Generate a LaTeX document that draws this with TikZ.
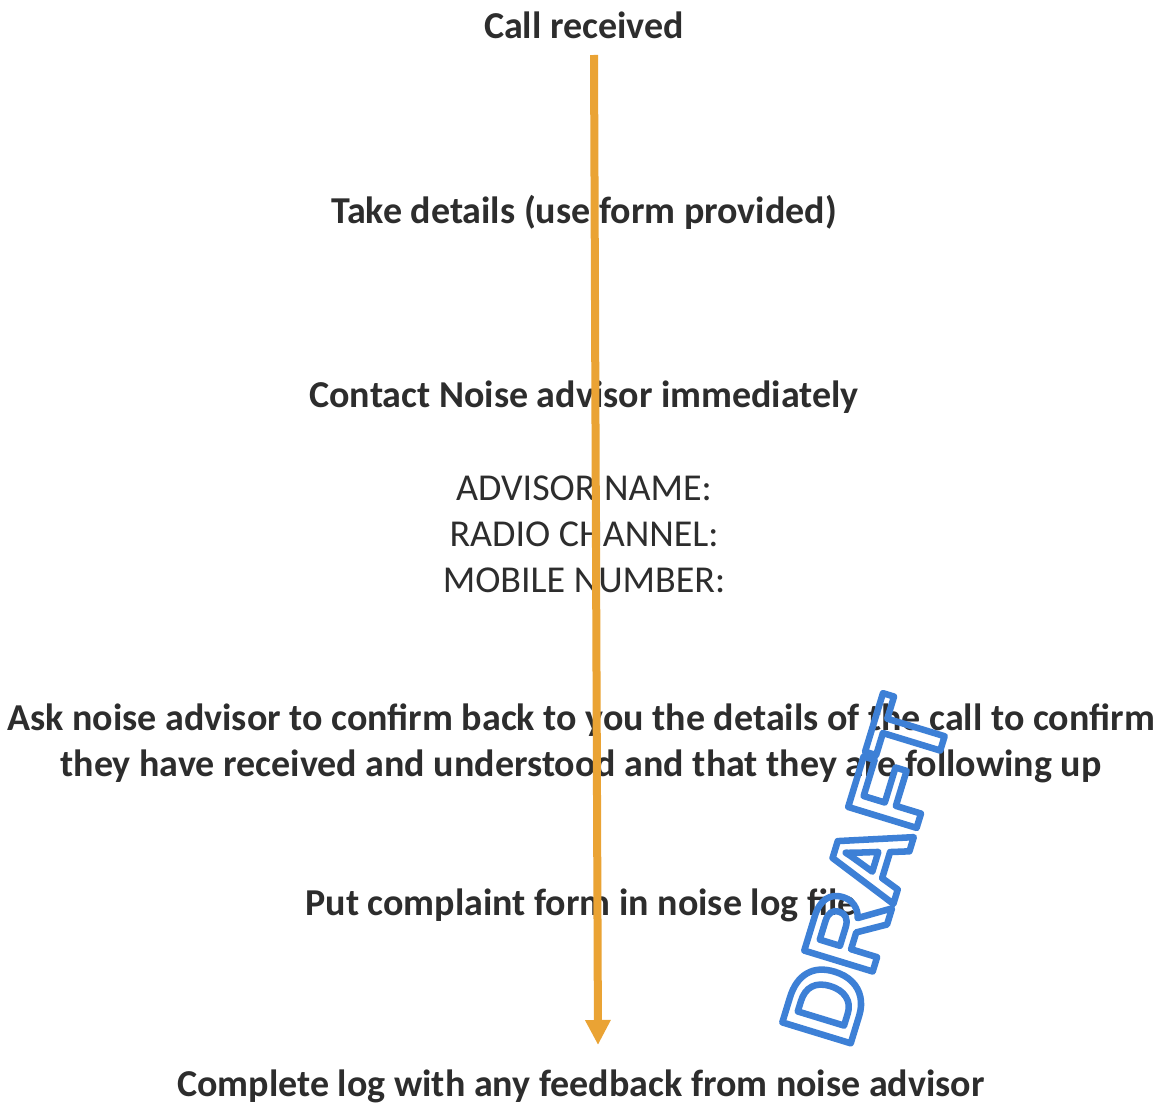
\documentclass[tikz,border=0pt]{standalone}
\usepackage{fontspec}
\setmainfont{Carlito}
\newfontfamily\stampfont{Liberation Sans}
\usetikzlibrary{arrows.meta}
\usepackage{xcolor}

\definecolor{inkgray}{RGB}{45,45,45}
\definecolor{arroworange}{RGB}{234,163,52}

% hollow letters: blue stroke only
\newcommand\outlined[1]{{\special{pdf:literal direct 0.24 0.50 0.84 RG 6.5 w 1 j 1 Tr}#1\special{pdf:literal direct 0 Tr}}}

\tikzset{
  stage/.style={anchor=base, text=inkgray, font=\fontsize{38}{46}\selectfont\bfseries},
  field/.style={anchor=base, text=inkgray, font=\fontsize{38}{46}\selectfont},
}

\begin{document}
\begin{tikzpicture}[x=1pt, y=-1pt]
          % Variables
          \def \midx  {584}
          \def \stampx {866}
          \def \stampy {871}

          \useasboundingbox[fill=white] (0,0) rectangle (1166,1105);

          % Steps
          \node[stage] (call)     at (\midx, 39)  {Call received};
          \node[stage] (details)  at (\midx, 223) {Take details (use form provided)};
          \node[stage] (contact)  at (\midx, 407) {Contact Noise advisor immediately};
          \node[field] (name)     at (\midx, 500) {ADVISOR NAME:};
          \node[field] (radio)    at (\midx, 546) {RADIO CHANNEL:};
          \node[field] (mobile)   at (\midx, 592) {MOBILE NUMBER:};
          \node[stage] (ask1)     at (581, 730)   {Ask noise advisor to confirm back to you the details of the call to confirm};
          \node[stage] (ask2)     at (581, 776)   {they have received and understood and that they are following up};
          \node[stage] (file)     at (581, 915)   {Put complaint form in noise log file};
          \node[stage] (complete) at (581, 1096)  {Complete log with any feedback from noise advisor};

          % Arrow
          \coordinate (start) at (594, 55);
          \coordinate (tip)   at (598, 1045);
          \draw[line width=8, arroworange, -{Triangle[width=24pt, length=25pt]}] (start) -- (tip);

          % Stamp
          \node[rotate=73, font=\stampfont\bfseries\fontsize{104}{104}\selectfont] (stamp) at (\stampx, \stampy) {\outlined{DRAFT}};

        \end{tikzpicture}
\end{document}
